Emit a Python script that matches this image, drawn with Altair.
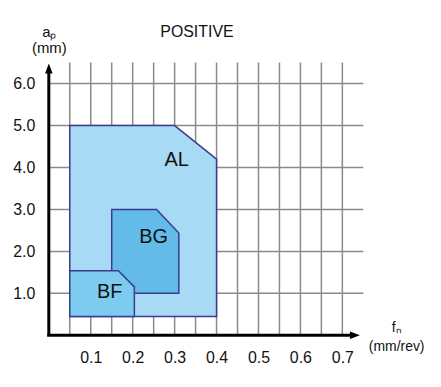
import altair as alt
import pandas as pd

# ---- data ----
x_grid = [0.05, 0.10, 0.15, 0.20, 0.25, 0.30, 0.35, 0.40, 0.45, 0.50, 0.55, 0.60, 0.65, 0.70]
y_grid = [1, 2, 3, 4, 5, 6]
x_ticks = [0.1, 0.2, 0.3, 0.4, 0.5, 0.6, 0.7]
y_ticks = [1.0, 2.0, 3.0, 4.0, 5.0, 6.0]

al_x = [0.05, 0.30, 0.40]
al_top = [5.0, 5.0, 4.2]
al_bottom = [0.45, 0.45, 0.45]

bg_x = [0.15, 0.257, 0.31]
bg_top = [3.0, 3.0, 2.44]
bg_bottom = [1.0, 1.0, 1.0]

bf_x = [0.05, 0.166, 0.204]
bf_top = [1.54, 1.54, 1.155]
bf_bottom = [0.45, 0.45, 0.45]

region_names = ["AL", "BG", "BF"]
region_label_x = [0.305, 0.25, 0.145]
region_label_y = [4.17, 2.35, 1.03]

X_MAX = 0.75
Y_MAX = 6.5

FONT = "Liberation Sans"
STROKE = "#3b3b8f"

xs = alt.Scale(domain=[0, X_MAX], nice=False, zero=False)
ys = alt.Scale(domain=[0, Y_MAX], nice=False, zero=False)

# gridlines
vgrid = alt.Chart(pd.DataFrame({"x": x_grid, "y0": 0.0, "y1": Y_MAX})).mark_rule(
    color="#8a8a8a", strokeWidth=1.5
).encode(
    x=alt.X("x:Q", scale=xs, axis=alt.Axis(
        values=x_ticks, format=".1f", domain=False, ticks=False, tickSize=0, grid=False,
        labelFont=FONT, labelFontSize=16, labelColor="#111", labelPadding=14,
        title=["fₙ", "(mm/rev)"], titleFont=FONT, titleFontSize=14, titleFontWeight="normal",
        titleColor="#111", titleAlign="center", titleBaseline="alphabetic",
        titleX=349, titleY=-4, titleLineHeight=19, titleAngle=0,
    )),
    y=alt.Y("y0:Q", scale=ys, axis=alt.Axis(
        values=y_ticks, format=".1f", domain=False, ticks=False, tickSize=0, grid=False,
        labelFont=FONT, labelFontSize=16, labelColor="#111", labelPadding=14,
        title=["aₚ", "(mm)"], titleFont=FONT, titleFontSize=15, titleFontWeight="normal",
        titleColor="#111", titleAlign="center", titleBaseline="alphabetic",
        titleX=0, titleY=-26, titleLineHeight=16, titleAngle=0,
    )),
    y2="y1:Q",
)

hgrid = alt.Chart(pd.DataFrame({"y": y_grid, "x0": 0.0, "x1": X_MAX})).mark_rule(
    color="#8a8a8a", strokeWidth=1.5
).encode(
    y=alt.Y("y:Q", scale=ys),
    x=alt.X("x0:Q", scale=xs),
    x2="x1:Q",
)


def region(xv, top, bottom, fill):
    df = pd.DataFrame({"x": xv, "top": top, "bottom": bottom})
    return alt.Chart(df).mark_area(
        fill=fill, stroke=STROKE, strokeWidth=1.5, opacity=1, interpolate="linear"
    ).encode(
        x=alt.X("x:Q", scale=xs),
        y=alt.Y("top:Q", scale=ys),
        y2="bottom:Q",
    )


al = region(al_x, al_top, al_bottom, "#a8daf5")
bg = region(bg_x, bg_top, bg_bottom, "#62bbe8")
bf = region(bf_x, bf_top, bf_bottom, "#7ecbf0")

labels = alt.Chart(pd.DataFrame({
    "name": region_names, "x": region_label_x, "y": region_label_y
})).mark_text(font=FONT, fontSize=20, color="#111", baseline="middle", align="center").encode(
    x=alt.X("x:Q", scale=xs),
    y=alt.Y("y:Q", scale=ys),
    text="name:N",
)

# axis lines with arrows
xaxis_line = alt.Chart(pd.DataFrame({"y": [0.0], "x0": [-0.004], "x1": [0.73]})).mark_rule(
    color="black", strokeWidth=3
).encode(y=alt.Y("y:Q", scale=ys), x=alt.X("x0:Q", scale=xs), x2="x1:Q")

yaxis_line = alt.Chart(pd.DataFrame({"x": [0.0], "y0": [0.0], "y1": [6.3]})).mark_rule(
    color="black", strokeWidth=3
).encode(x=alt.X("x:Q", scale=xs), y=alt.Y("y0:Q", scale=ys), y2="y1:Q")

x_arrow = alt.Chart(pd.DataFrame({"x": [0.730], "y": [0.0]})).mark_point(
    shape="M1,0L-1,-0.75L-1,0.75Z", size=100, filled=True, color="black", opacity=1
).encode(x=alt.X("x:Q", scale=xs), y=alt.Y("y:Q", scale=ys))

y_arrow = alt.Chart(pd.DataFrame({"x": [0.0], "y": [6.36]})).mark_point(
    shape="M0,-1L-0.75,1L0.75,1Z", size=100, filled=True, color="black", opacity=1
).encode(x=alt.X("x:Q", scale=xs), y=alt.Y("y:Q", scale=ys))

chart = alt.layer(
    vgrid, hgrid, al, bg, bf, labels, xaxis_line, yaxis_line, x_arrow, y_arrow
).properties(
    width=316,
    height=274,
    title=alt.TitleParams(
        "POSITIVE", font=FONT, fontSize=16, fontWeight="normal", color="#111",
        anchor="start", frame="group", dx=112, dy=32, baseline="alphabetic", offset=4,
    ),
    autosize=alt.AutoSizeParams(type="none"),
    padding={"left": 41, "top": 54, "right": 70, "bottom": 40},
).configure_view(stroke=None)

chart.save("out.html", embed_options={"renderer": "svg", "actions": False})
